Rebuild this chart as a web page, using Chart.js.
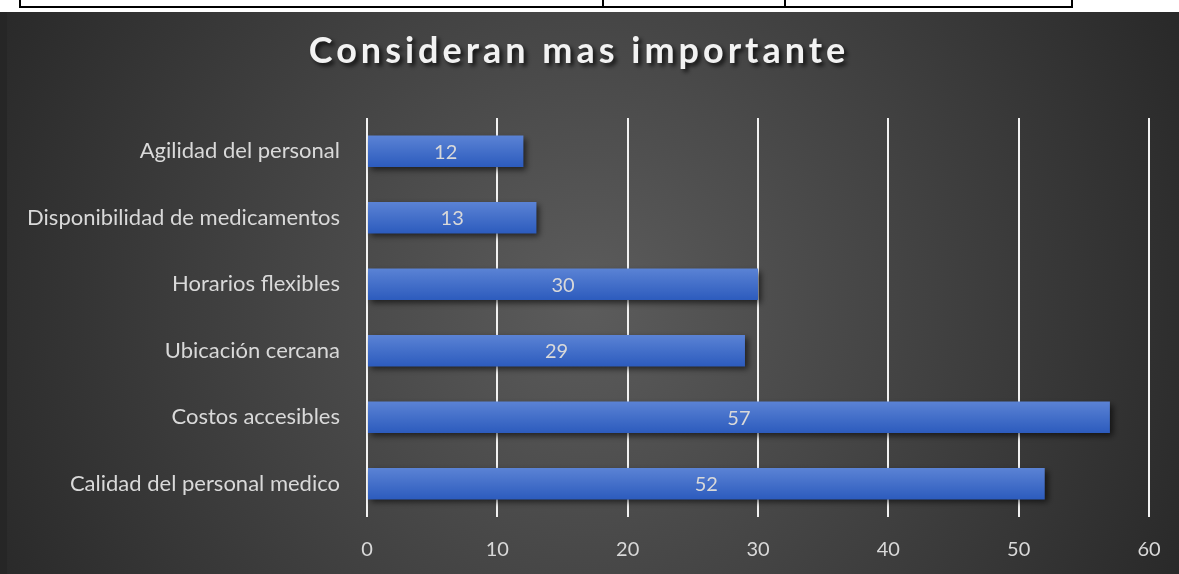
<!DOCTYPE html>
<html>
<head>
<meta charset="utf-8">
<script src="https://cdn.jsdelivr.net/npm/chart.js@4.4.0/dist/chart.umd.min.js"></script>
<style>
  html, body { margin: 0; padding: 0; overflow: hidden; }
  body { width: 1179px; height: 574px; position: relative;
         background: linear-gradient(to bottom, #fff 0, #fff 12px, #262626 12px); }
  .tbl { position: absolute; top: 0; left: 19px; width: 1050px; height: 6px; border: 2px solid #000; border-top: none; }
  .tbl i { position: absolute; top: 0; bottom: 0; width: 2px; background: #000; }
  #wrap { position: absolute; left: 7px; top: 12px; width: 1172px; height: 562px; background: #262626; }
  #chart { width: 1172px; height: 562px; }
</style>
</head>
<body>
<div class="tbl"><i style="left:581px"></i><i style="left:763px"></i></div>
<div id="wrap"><canvas id="chart" width="1172" height="562"></canvas></div>
<script>
// datos del grafico
const categories = [
  "Agilidad del personal",
  "Disponibilidad de medicamentos",
  "Horarios flexibles",
  "Ubicación cercana",
  "Costos accesibles",
  "Calidad del personal medico"
];
const values = [12, 13, 30, 29, 57, 52];
const titleText = "Consideran mas importante";

const FONT = "Lato, 'Open Sans', sans-serif";

// fondo con degradado radial y titulo
const backgroundPlugin = {
  id: "background",
  beforeDraw(chart) {
    const ctx = chart.ctx;
    const w = chart.width, h = chart.height;
    const g = ctx.createRadialGradient(580, 290, 0, 580, 290, 720);
    g.addColorStop(0, "#5c5c5c");
    g.addColorStop(1, "#242424");
    ctx.save();
    ctx.fillStyle = g;
    ctx.fillRect(0, 0, w, h);
    ctx.font = "bold 36px " + FONT;
    ctx.letterSpacing = "4px";
    ctx.textAlign = "center";
    ctx.textBaseline = "alphabetic";
    ctx.shadowColor = "rgba(0,0,0,0.75)";
    ctx.shadowBlur = 4;
    ctx.shadowOffsetX = 3;
    ctx.shadowOffsetY = 3;
    ctx.fillStyle = "#f2f2f2";
    ctx.fillText(titleText, 572, 51);
    ctx.restore();
  }
};

// sombra de las barras y etiquetas de datos
const shadowPlugin = {
  id: "barShadow",
  beforeDatasetsDraw(chart) {
    const ctx = chart.ctx;
    ctx.save();
    ctx.shadowColor = "rgba(0,0,0,0.6)";
    ctx.shadowBlur = 6;
    ctx.shadowOffsetX = 3;
    ctx.shadowOffsetY = 3;
  },
  afterDatasetsDraw(chart) {
    chart.ctx.restore();
    const ctx = chart.ctx;
    const meta = chart.getDatasetMeta(0);
    ctx.save();
    ctx.font = "20px " + FONT;
    ctx.fillStyle = "#d9d9d9";
    ctx.textAlign = "center";
    ctx.textBaseline = "middle";
    meta.data.forEach((bar, i) => {
      const x = (bar.x + bar.base) / 2;
      ctx.fillText(values[i], x, bar.y + 1);
    });
    ctx.restore();
  }
};

const ctx = document.getElementById("chart").getContext("2d");
new Chart(ctx, {
  type: "bar",
  data: {
    labels: categories,
    datasets: [{
      data: values,
      categoryPercentage: 1,
      barPercentage: 0.47,
      borderWidth: 0,
      backgroundColor(context) {
        const chart = context.chart;
        const ys = chart.scales.y;
        if (!ys || context.dataIndex === undefined) return "#4472c4";
        const yc = ys.getPixelForValue(context.dataIndex);
        if (!isFinite(yc)) return "#4472c4";
        const half = 16;
        const g = chart.ctx.createLinearGradient(0, yc - half, 0, yc + half);
        g.addColorStop(0, "#5b83d5");
        g.addColorStop(1, "#2c5bbd");
        return g;
      }
    }]
  },
  options: {
    indexAxis: "y",
    responsive: false,
    animation: false,
    layout: { padding: { top: 106, right: 30, left: 0, bottom: 0 } },
    plugins: {
      legend: { display: false },
      tooltip: { enabled: false },
      title: { display: false }
    },
    scales: {
      x: {
        min: 0,
        max: 60,
        ticks: {
          stepSize: 10,
          color: "#d9d9d9",
          font: { family: FONT, size: 20 },
          padding: 21
        },
        grid: { color: "#f2f2f2", lineWidth: 2, drawTicks: false },
        border: { display: false },
        afterFit(s) { s.height = 57; s.paddingLeft = 0; s.paddingRight = 0; }
      },
      y: {
        ticks: {
          color: "#d9d9d9",
          font: { family: FONT, size: 22 },
          padding: 27
        },
        grid: { display: false, drawTicks: false },
        border: { display: false },
        afterFit(s) { s.width = 360; s.paddingTop = 0; s.paddingBottom = 0; }
      }
    }
  },
  plugins: [backgroundPlugin, shadowPlugin]
});
</script>
</body>
</html>
